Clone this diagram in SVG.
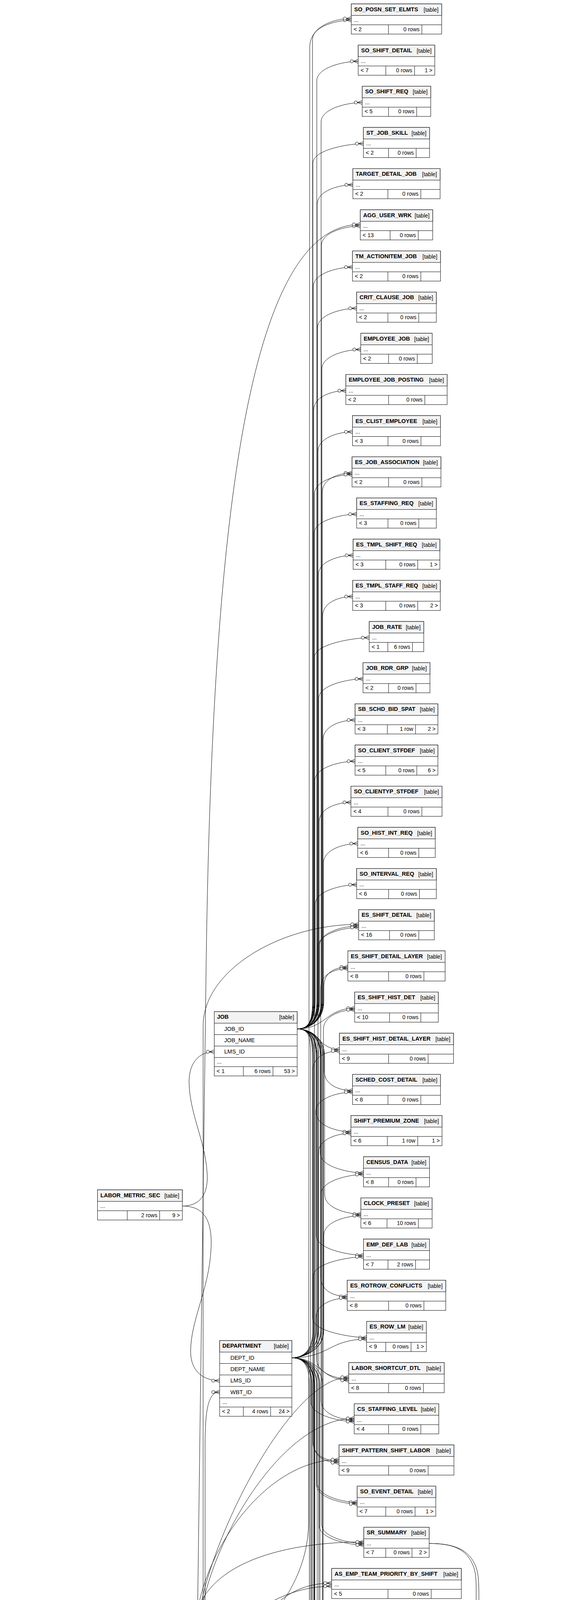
<svg xmlns="http://www.w3.org/2000/svg" width="1472" height="6980" viewBox="0 0 1472 6980">
<style>
text{font-family:"Liberation Sans",Arial,Helvetica,sans-serif;font-size:14.5px;fill:#000}
.n{font-weight:bold;font-size:14.5px}
.r{text-anchor:end;font-size:14px}
.tb{fill:#fff;stroke:#000;stroke-width:1}
.hd{fill:#f3f3f3;stroke:#000;stroke-width:1}
.ln{fill:none;stroke:#000;stroke-width:1}
.thk{fill:none;stroke:#000;stroke-width:2.5}
.e{fill:none;stroke:#000;stroke-width:1;marker-end:url(#cf)}
</style>
<defs>
<marker id="cf" markerUnits="userSpaceOnUse" markerWidth="24" markerHeight="14" viewBox="-22 -7 24 14" refX="0" refY="0" orient="auto" overflow="visible"><circle cx="-16.5" cy="0" r="4" fill="#fff" stroke="#000" stroke-width="1"/><path d="M-12.5 0L0 -5M-12.5 0H0M-12.5 0L0 5" fill="none" stroke="#000" stroke-width="1"/></marker>
</defs>
<rect width="1472" height="6980" fill="#fff"/>
<g id="connectors">
<path class="e" d="M760.8 2634C790.8 2634 800 2614 800 2564L800 101.5C800 66.5 864.3 51.5 899.3 51.5"/>
<path class="e" d="M760.8 2634C790.8 2634 811 2614 811 2564L811 206.9C811 171.9 882 156.9 917 156.9"/>
<path class="e" d="M760.8 2634C790.8 2634 822 2614 822 2564L822 312.3C822 277.3 892.3 262.3 927.3 262.3"/>
<path class="e" d="M760.8 2634C790.8 2634 801 2614 801 2564L801 417.7C801 382.7 895.3 367.7 930.3 367.7"/>
<path class="e" d="M760.8 2634C790.8 2634 812 2614 812 2564L812 523.1C812 488.1 868.3 473.1 903.3 473.1"/>
<path class="e" d="M760.8 2634C790.8 2634 823 2614 823 2564L823 628.5C823 593.5 887.3 578.5 922.3 578.5"/>
<path class="e" d="M760.8 2634C790.8 2634 802 2614 802 2564L802 733.9C802 698.9 867.3 683.9 902.3 683.9"/>
<path class="e" d="M760.8 2634C790.8 2634 813 2614 813 2564L813 839.3C813 804.3 878 789.3 913 789.3"/>
<path class="e" d="M760.8 2634C790.8 2634 824 2614 824 2564L824 944.7C824 909.7 888.5 894.7 923.5 894.7"/>
<path class="e" d="M760.8 2634C790.8 2634 803 2614 803 2564L803 1050.1C803 1015.1 850.3 1000.1 885.3 1000.1"/>
<path class="e" d="M760.8 2634C790.8 2634 814 2614 814 2564L814 1155.5C814 1120.5 867.4 1105.5 902.4 1105.5"/>
<path class="e" d="M760.8 2634C790.8 2634 825 2614 825 2564L825 1260.9C825 1225.9 866.2 1210.9 901.2 1210.9"/>
<path class="e" d="M760.8 2634C790.8 2634 804 2614 804 2564L804 1366.3C804 1331.3 878 1316.3 913 1316.3"/>
<path class="e" d="M760.8 2634C790.8 2634 815 2614 815 2564L815 1471.7C815 1436.7 869 1421.7 904 1421.7"/>
<path class="e" d="M760.8 2634C790.8 2634 826 2614 826 2564L826 1577.1C826 1542.1 867.8 1527.1 902.8 1527.1"/>
<path class="e" d="M760.8 2634C790.8 2634 805 2614 805 2564L805 1682.5C805 1647.5 910.2 1632.5 945.2 1632.5"/>
<path class="e" d="M760.8 2634C790.8 2634 816 2614 816 2564L816 1787.9C816 1752.9 894.3 1737.9 929.3 1737.9"/>
<path class="e" d="M760.8 2634C790.8 2634 827 2614 827 2564L827 1893.3C827 1858.3 874 1843.3 909 1843.3"/>
<path class="e" d="M760.8 2634C790.8 2634 806 2614 806 2564L806 1998.7C806 1963.7 874 1948.7 909 1948.7"/>
<path class="e" d="M760.8 2634C790.8 2634 817 2614 817 2564L817 2104.1C817 2069.1 863.4 2054.1 898.4 2054.1"/>
<path class="e" d="M760.8 2634C790.8 2634 828 2614 828 2564L828 2209.5C828 2174.5 880.8 2159.5 915.8 2159.5"/>
<path class="e" d="M760.8 2634C790.8 2634 807 2614 807 2564L807 2314.9C807 2279.9 878 2264.9 913 2264.9"/>
<path class="e" d="M760.8 2634C790.8 2634 818 2614 818 2564L818 2420.3C818 2385.3 883.2 2370.3 918.2 2370.3"/>
<path class="e" d="M760.8 2634C790.8 2634 829 2614 829 2564L829 2525.7C829 2490.7 855.5 2475.7 890.5 2475.7"/>
<path class="e" d="M760.8 2634C834.4 2634 834.4 2581.1 907.9 2581.1"/>
<path class="e" d="M760.8 2634C814.9 2634 814.9 2686.5 869 2686.5"/>
<path class="e" d="M760.8 2634C790.8 2634 830 2654 830 2704L830 2741.9C830 2776.9 867.4 2791.9 902.4 2791.9"/>
<path class="e" d="M760.8 2634C790.8 2634 809 2654 809 2704L809 2847.3C809 2882.3 863.4 2897.3 898.4 2897.3"/>
<path class="e" d="M760.8 2634C790.8 2634 820 2654 820 2704L820 2952.7C820 2987.7 895.5 3002.7 930.5 3002.7"/>
<path class="e" d="M760.8 2634C790.8 2634 831 2654 831 2704L831 3058.1C831 3093.1 888.8 3108.1 923.8 3108.1"/>
<path class="e" d="M760.8 2634C790.8 2634 810 2654 810 2704L810 3163.5C810 3198.5 895.5 3213.5 930.5 3213.5"/>
<path class="e" d="M760.8 2634C790.8 2634 821 2654 821 2704L821 3268.9C821 3303.9 853.9 3318.9 888.9 3318.9"/>
<path class="e" d="M760.8 2634C790.8 2634 800 2654 800 2704L800 3374.3C800 3409.3 903.5 3424.3 938.5 3424.3"/>
<path class="e" d="M760.8 2634C790.8 2634 811 2654 811 2704L811 3479.7C811 3514.7 857.8 3529.7 892.8 3529.7"/>
<path class="e" d="M760.8 2634C790.8 2634 822 2654 822 2704L822 3585.1C822 3620.1 871.7 3635.1 906.7 3635.1"/>
<path class="e" d="M760.8 2634C790.8 2634 801 2654 801 2704L801 3690.5C801 3725.5 832.9 3740.5 867.9 3740.5"/>
<path class="e" d="M760.8 2634C790.8 2634 812 2654 812 2704L812 3795.9C812 3830.9 879.3 3845.9 914.3 3845.9"/>
<path class="e" d="M760.8 2634C790.8 2634 823 2654 823 2704L823 3901.3C823 3936.3 896.3 3951.3 931.3 3951.3"/>
<path class="e" d="M760.8 2634C790.8 2634 803 2654 803 2704L803 4322.9C803 4357.9 910.2 4372.9 945.2 4372.9"/>
<path class="e" d="M760.8 2634C790.8 2634 826 2654 826 2704L826 4849.9C826 4884.9 860.6 4899.9 895.6 4899.9"/>
<path class="e" d="M760.8 2634C790.8 2634 805 2654 805 2704L805 4955.3C805 4990.3 892.7 5005.3 927.7 5005.3"/>
<path class="e" d="M760.8 2634C790.8 2634 816 2654 816 2704L816 5060.7C816 5095.7 895.5 5110.7 930.5 5110.7"/>
<path class="e" d="M760.8 2634C790.8 2634 827 2654 827 2704L827 5166.1C827 5201.1 834 5216.1 869 5216.1"/>
<path class="e" d="M760.8 2634C790.8 2634 795 2654 795 2704L795 5532.8C795 5567.8 808 5582.8 843 5582.8"/>
<path class="e" d="M747.1 3476C777.1 3476 805 3456 805 3406L805 1264.9C805 1229.9 866.2 1214.9 901.2 1214.9"/>
<path class="e" d="M747.1 3476C777.1 3476 814 3456 814 3406L814 2424.3C814 2389.3 883.2 2374.3 918.2 2374.3"/>
<path class="e" d="M747.1 3476C777.1 3476 821 3456 821 3406L821 2529.7C821 2494.7 855.5 2479.7 890.5 2479.7"/>
<path class="e" d="M747.1 3476C777.1 3476 828 3456 828 3406L828 2635.1C828 2600.1 872.9 2585.1 907.9 2585.1"/>
<path class="e" d="M747.1 3476C777.1 3476 801 3456 801 3406L801 2740.5C801 2705.5 834 2690.5 869 2690.5"/>
<path class="e" d="M747.1 3476C777.1 3476 808 3456 808 3406L808 2845.9C808 2810.9 867.4 2795.9 902.4 2795.9"/>
<path class="e" d="M747.1 3476C777.1 3476 815 3456 815 3406L815 2951.3C815 2916.3 863.4 2901.3 898.4 2901.3"/>
<path class="e" d="M747.1 3476C777.1 3476 822 3456 822 3406L822 3056.7C822 3021.7 895.5 3006.7 930.5 3006.7"/>
<path class="e" d="M747.1 3476C777.1 3476 829 3456 829 3406L829 3162.1C829 3127.1 888.8 3112.1 923.8 3112.1"/>
<path class="e" d="M747.1 3476C777.1 3476 802 3456 802 3406L802 3267.5C802 3232.5 895.5 3217.5 930.5 3217.5"/>
<path class="e" d="M747.1 3476C777.1 3476 809 3456 809 3406L809 3372.9C809 3337.9 853.9 3322.9 888.9 3322.9"/>
<path class="e" d="M747.1 3476C842.8 3476 842.8 3428.3 938.5 3428.3"/>
<path class="e" d="M747.1 3476C820 3476 820 3533.7 892.8 3533.7"/>
<path class="e" d="M747.1 3476C777.1 3476 796 3496 796 3546L796 3589.1C796 3624.1 871.7 3639.1 906.7 3639.1"/>
<path class="e" d="M747.1 3476C777.1 3476 803 3496 803 3546L803 3694.5C803 3729.5 832.9 3744.5 867.9 3744.5"/>
<path class="e" d="M747.1 3476C777.1 3476 810 3496 810 3546L810 3799.9C810 3834.9 879.3 3849.9 914.3 3849.9"/>
<path class="e" d="M747.1 3476C777.1 3476 817 3496 817 3546L817 3905.3C817 3940.3 896.3 3955.3 931.3 3955.3"/>
<path class="e" d="M747.1 3476C777.1 3476 804 3496 804 3546L804 4221.5C804 4256.5 871.3 4271.5 906.3 4271.5"/>
<path class="e" d="M747.1 3476C777.1 3476 798 3496 798 3546L798 4639.1C798 4674.1 856.7 4689.1 891.7 4689.1"/>
<path class="e" d="M747.1 3476C777.1 3476 805 3496 805 3546L805 4748.5C805 4783.5 858.2 4798.5 893.2 4798.5"/>
<path class="e" d="M747.1 3476C777.1 3476 812 3496 812 3546L812 4853.9C812 4888.9 860.6 4903.9 895.6 4903.9"/>
<path class="e" d="M747.1 3476C777.1 3476 819 3496 819 3546L819 4959.3C819 4994.3 892.7 5009.3 927.7 5009.3"/>
<path class="e" d="M747.1 3476C777.1 3476 826 3496 826 3546L826 5064.7C826 5099.7 895.5 5114.7 930.5 5114.7"/>
<path class="e" d="M747.1 3476C777.1 3476 799 3496 799 3546L799 5170.1C799 5205.1 834 5220.1 869 5220.1"/>
<path class="e" d="M747.1 3476C777.1 3476 806 3496 806 3546L806 5300.5C806 5335.5 869.7 5350.5 904.7 5350.5"/>
<path class="e" d="M747.1 3476C777.1 3476 792 3496 792 3546L792 5474C792 5509 808 5524 843 5524"/>
<path class="e" d="M459.1 4265.3C600 4265.3 788 4100 790 3900L793 120C794 70 850 47.5 899.3 47.5"/>
<path class="e" d="M459.1 4265.3C489.1 4265.3 505 4245 505 4185L528 2450C545 1300 640 574.5 922.3 574.5"/>
<path class="e" d="M459.1 4265.3C489.1 4265.3 520 4245 520 4185L520 2626.3C520 2483.3 719.1 2366.3 918.2 2366.3"/>
<path class="e" d="M459.1 4265.3C489.1 4265.3 505 4245 505 4185C505 4000 732.8 3525.7 892.8 3525.7"/>
<path class="e" d="M459.1 4265.3C489.1 4265.3 510 4245 510 4185C510 4000 706.7 3631.1 906.7 3631.1"/>
<path class="e" d="M459.1 4265.3C489.1 4265.3 500 4245 500 4185C500 4000 667.9 3736.5 867.9 3736.5"/>
<path class="e" d="M459.1 4265.3C489.1 4265.3 495 4245 495 4185C495 4000 731.3 3947.3 931.3 3947.3"/>
<path class="e" d="M459.1 4265.3C654 4265.3 654 4052.7 849 4052.7"/>
<path class="e" d="M459.1 4265.3C679.4 4265.3 679.4 4158.1 899.6 4158.1"/>
<path class="e" d="M459.1 4265.3L906.3 4265.3"/>
<path class="e" d="M459.1 4265.3C702.2 4265.3 702.2 4368.9 945.2 4368.9"/>
<path class="e" d="M459.1 4265.3C686.7 4265.3 686.7 4474.3 914.3 4474.3"/>
<path class="e" d="M459.1 4265.3C698.8 4265.3 698.8 4579.7 938.5 4579.7"/>
<path class="e" d="M459.1 4265.3C677.4 4265.3 677.4 4895.9 895.6 4895.9"/>
<path class="e" d="M459.1 4265.3C693.4 4265.3 693.4 5001.3 927.7 5001.3"/>
<path class="e" d="M459.1 4265.3C489.1 4265.3 525 4245 525 4185L525 3700C525 3600 535 3563.8 562.3 3563.8"/>
<path class="e" d="M459.1 4265.3C489.1 4265.3 498 4285 498 4345L498 4840C498 4895 515 4913.9 548.5 4913.9"/>
<path class="e" d="M459.1 4265.3C489.1 4265.3 493 4285 493 4345L493 5090C493 5145 520 5163 557.9 5163"/>
<path class="e" d="M459.1 4265.3C600 4265.3 790 4500 790 4800L790 6380C790 6450 850 6481.3 905.4 6481.3"/>
<path class="e" d="M459.1 4265.3C489.1 4265.3 500 4285 500 4345L500 5200C500 5250 540 5262 640 5262C900 5262 1050 5290 1180 5265C1212 5258 1214 5220 1214 5160L1214 4700C1214 4640 1222 4620.5 1252.8 4620.5"/>
<path class="e" d="M1098.7 3951.3C1160 3951.3 1200 3965 1218 4010C1226 4030 1226 4060 1226 4100L1226 4540C1226 4590 1225 4612.5 1252.8 4612.5"/>
<path class="e" d="M1098.7 3951.3C1160 3951.3 1195 3965 1212 4010C1220 4030 1219 4060 1219 4100L1210 5260C1209 5380 1240 5458.5 1283.6 5458.5"/>
<path class="e" d="M447.6 5361C510.2 5361 510.2 5413.8 572.7 5413.8"/>
<path class="e" d="M447.6 5361C492 5361 492 5308.5 536.5 5308.5"/>
<path class="e" d="M447.6 5361C480 5361 472 5340 472 5290L472 5100C472 5050 500 5017.1 536.5 5017.1"/>
<path class="e" d="M447.6 5361C480 5361 476 5340 476 5290L476 5100C476 5050 500 5021.1 536.5 5021.1"/>
<path class="e" d="M447.6 5361C480 5361 480 5340 480 5290L480 5100C480 5050 500 5025.1 536.5 5025.1"/>
<path class="e" d="M447.6 5361C480 5361 484 5340 484 5290L484 5100C484 5050 500 5029.1 536.5 5029.1"/>
<path class="e" d="M447.6 5361C480 5361 488 5340 488 5290L488 5100C488 5050 500 5033.1 536.5 5033.1"/>
<path class="e" d="M447.6 5361C480 5361 480 5385 480 5440L480 5780C480 5830 505 5849 532.6 5849"/>
<path class="e" d="M447.6 5361C480 5361 484 5385 484 5440L484 5780C484 5830 505 5852 532.6 5852"/>
<path class="e" d="M447.6 5361C480 5361 488 5385 488 5440L488 5780C488 5830 505 5855 532.6 5855"/>
<path class="e" d="M447.6 5361C480 5361 492 5385 492 5440L492 5780C492 5830 505 5858 532.6 5858"/>
<path class="e" d="M447.6 5361C480 5361 496 5385 496 5440L496 5780C496 5830 505 5861 532.6 5861"/>
<path class="e" d="M447.6 5361C480 5361 500 5385 500 5440L500 5780C500 5830 505 5864 532.6 5864"/>
<path class="e" d="M447.6 5361C480 5361 505 5420 520 5470C545 5545 650 5575 760 5570C800 5568 810 5553.4 843 5553.4"/>
<path class="e" d="M447.6 5361C480 5361 495 5400 505 5430C530 5490 600 5490 700 5485C800 5480 840 5354.5 904.7 5354.5"/>
<path class="e" d="M447.6 5361C480 5361 510 5400 512 5480L518 5960C525 6250 800 6300 806 6500L808 6740C809 6790 830 6805.5 860.4 6805.5"/>
<path class="e" d="M447.6 5361C480 5361 505 5400 510 5500L520 5950C530 6400 620 6700 800 6830C900 6900 960 6930 1030 6930C1150 6930 1200 6880 1230 6800C1245 6750 1242 6600 1242 6500L1240 5560C1240 5500 1250 5466.5 1283.6 5466.5"/>
<path class="e" d="M447.6 5361C480 5361 500 5340 500 5290L500 4400C500 4250 650 4060.7 849 4060.7"/>
<path class="e" d="M447.6 5361C480 5361 504 5340 504 5290L504 4450C504 4300 680 4166.1 899.6 4166.1"/>
<path class="e" d="M447.6 5361C480 5361 508 5340 508 5290L508 4700C508 4560 700 4482.3 914.3 4482.3"/>
<path class="e" d="M447.6 5361C480 5361 512 5340 512 5290L512 4780C512 4650 720 4587.7 938.5 4587.7"/>
<path class="e" d="M447.6 5361C480 5361 516 5340 516 5290L516 4880C516 4820 700 4802.5 893.2 4802.5"/>
<path class="e" d="M447.6 5361C480 5361 520 5340 520 5290L520 5000C520 4950 525 4921.9 548.5 4921.9"/>
<path class="e" d="M447.6 5361C480 5361 524 5340 524 5290L524 5220C524 5185 530 5171 557.9 5171"/>
<path class="e" d="M771.3 5025.1C800 5025.1 812 5010 812 4980L812 4830C812 4800 850 4790.5 893.2 4790.5"/>
<path class="e" d="M771.3 5025.1C800 5025.1 818 5010 818 4980L818 4930C818 4905 855 4891.9 895.6 4891.9"/>
<path class="e" d="M749.3 5167C839.9 5167 839.9 5106.7 930.5 5106.7"/>
<path class="e" d="M745 5629.8C790 5629.8 800 5494.6 843 5494.6"/>
<path class="e" d="M745 5629.8C775 5629.8 800 5610 800 5570L800 5280C800 5240 830 5224.1 869 5224.1"/>
<path class="e" d="M745 5629.8C775 5629.8 806 5610 806 5570L806 5410C806 5375 860 5358.5 904.7 5358.5"/>
<path class="e" d="M745 5629.8C775 5629.8 786 5650 786 5700L788 6400C789 6460 850 6489.3 905.4 6489.3"/>
<path class="e" d="M745 5629.8C775 5629.8 792 5650 792 5700L796 6520C797 6570 820 6590.5 855.4 6590.5"/>
<path class="e" d="M745 5629.8C775 5629.8 798 5650 798 5700L802 6600C803 6660 850 6696 899.6 6696"/>
<path class="e" d="M745 5629.8C775 5629.8 780 5650 780 5700L784 6700C785 6770 820 6797.5 860.4 6797.5"/>
<path class="e" d="M466.8 3087.5C510 3087.5 535 3060 530 3000C525 2920 485 2850 484 2770C484 2720 510 2692.5 548.5 2692.5"/>
<path class="e" d="M466.8 3087.5C520 3087.5 545 3120 540 3200C535 3300 488 3380 488 3460C488 3510 520 3534.5 562.3 3534.5"/>
<path class="e" d="M184.3 5381.7C226.6 5381.7 226.6 5419.8 268.8 5419.8"/>
<path class="e" d="M163 5487C215.9 5487 215.9 5449 268.8 5449"/>
</g>
<g id="SO_POSN_SET_ELMTS" transform="translate(899.3 10)"><rect class="tb" width="231.4" height="77.2"/><rect class="hd" width="231.4" height="29.5"/><path class="ln" d="M0 53.5H231.4M95 53.5V77.2M180.7 53.5V77.2"/><text class="n" x="7.5" y="18.5">SO_POSN_SET_ELMTS</text><text class="r" x="223.4" y="19.5">[table]</text><text x="7" y="46">...</text><text x="6" y="69.5">&lt; 2</text><text class="r" x="174.7" y="69.5">0 rows</text></g>
<g id="SO_SHIFT_DETAIL" transform="translate(917 115.4)"><rect class="tb" width="196" height="77.2"/><rect class="hd" width="196" height="29.5"/><path class="ln" d="M0 53.5H196M70.7 53.5V77.2M144.3 53.5V77.2"/><text class="n" x="7.5" y="18.5">SO_SHIFT_DETAIL</text><text class="r" x="188" y="19.5">[table]</text><text x="7" y="46">...</text><text x="6" y="69.5">&lt; 7</text><text class="r" x="138.3" y="69.5">0 rows</text><text class="r" x="190" y="69.5">1 &gt;</text></g>
<g id="SO_SHIFT_REQ" transform="translate(927.3 220.8)"><rect class="tb" width="175.4" height="77.2"/><rect class="hd" width="175.4" height="29.5"/><path class="ln" d="M0 53.5H175.4M67.4 53.5V77.2M139.4 53.5V77.2"/><text class="n" x="7.5" y="18.5">SO_SHIFT_REQ</text><text class="r" x="167.4" y="19.5">[table]</text><text x="7" y="46">...</text><text x="6" y="69.5">&lt; 5</text><text class="r" x="133.4" y="69.5">0 rows</text></g>
<g id="ST_JOB_SKILL" transform="translate(930.3 326.2)"><rect class="tb" width="169.4" height="77.2"/><rect class="hd" width="169.4" height="29.5"/><path class="ln" d="M0 53.5H169.4M64.4 53.5V77.2M135 53.5V77.2"/><text class="n" x="7.5" y="18.5">ST_JOB_SKILL</text><text class="r" x="161.4" y="19.5">[table]</text><text x="7" y="46">...</text><text x="6" y="69.5">&lt; 2</text><text class="r" x="129" y="69.5">0 rows</text></g>
<g id="TARGET_DETAIL_JOB" transform="translate(903.3 431.6)"><rect class="tb" width="223.4" height="77.2"/><rect class="hd" width="223.4" height="29.5"/><path class="ln" d="M0 53.5H223.4M89.7 53.5V77.2M174 53.5V77.2"/><text class="n" x="7.5" y="18.5">TARGET_DETAIL_JOB</text><text class="r" x="215.4" y="19.5">[table]</text><text x="7" y="46">...</text><text x="6" y="69.5">&lt; 2</text><text class="r" x="168" y="69.5">0 rows</text></g>
<g id="AGG_USER_WRK" transform="translate(922.3 537)"><rect class="tb" width="185.4" height="77.2"/><rect class="hd" width="185.4" height="29.5"/><path class="ln" d="M0 53.5H185.4M76.4 53.5V77.2M148.4 53.5V77.2"/><text class="n" x="7.5" y="18.5">AGG_USER_WRK</text><text class="r" x="177.4" y="19.5">[table]</text><text x="7" y="46">...</text><text x="6" y="69.5">&lt; 13</text><text class="r" x="142.4" y="69.5">0 rows</text></g>
<g id="TM_ACTIONITEM_JOB" transform="translate(902.3 642.4)"><rect class="tb" width="225.4" height="77.2"/><rect class="hd" width="225.4" height="29.5"/><path class="ln" d="M0 53.5H225.4M90.7 53.5V77.2M175 53.5V77.2"/><text class="n" x="7.5" y="18.5">TM_ACTIONITEM_JOB</text><text class="r" x="217.4" y="19.5">[table]</text><text x="7" y="46">...</text><text x="6" y="69.5">&lt; 2</text><text class="r" x="169" y="69.5">0 rows</text></g>
<g id="CRIT_CLAUSE_JOB" transform="translate(913 747.8)"><rect class="tb" width="204" height="77.2"/><rect class="hd" width="204" height="29.5"/><path class="ln" d="M0 53.5H204M80 53.5V77.2M159 53.5V77.2"/><text class="n" x="7.5" y="18.5">CRIT_CLAUSE_JOB</text><text class="r" x="196" y="19.5">[table]</text><text x="7" y="46">...</text><text x="6" y="69.5">&lt; 2</text><text class="r" x="153" y="69.5">0 rows</text></g>
<g id="EMPLOYEE_JOB" transform="translate(923.5 853.2)"><rect class="tb" width="183" height="77.2"/><rect class="hd" width="183" height="29.5"/><path class="ln" d="M0 53.5H183M71.3 53.5V77.2M144.7 53.5V77.2"/><text class="n" x="7.5" y="18.5">EMPLOYEE_JOB</text><text class="r" x="175" y="19.5">[table]</text><text x="7" y="46">...</text><text x="6" y="69.5">&lt; 2</text><text class="r" x="138.7" y="69.5">0 rows</text></g>
<g id="EMPLOYEE_JOB_POSTING" transform="translate(885.3 958.6)"><rect class="tb" width="259.4" height="77.2"/><rect class="hd" width="259.4" height="29.5"/><path class="ln" d="M0 53.5H259.4M109.5 53.5V77.2M202.3 53.5V77.2"/><text class="n" x="7.5" y="18.5">EMPLOYEE_JOB_POSTING</text><text class="r" x="251.4" y="19.5">[table]</text><text x="7" y="46">...</text><text x="6" y="69.5">&lt; 2</text><text class="r" x="196.3" y="69.5">0 rows</text></g>
<g id="ES_CLIST_EMPLOYEE" transform="translate(902.4 1064)"><rect class="tb" width="225.2" height="77.2"/><rect class="hd" width="225.2" height="29.5"/><path class="ln" d="M0 53.5H225.2M90.8 53.5V77.2M175.3 53.5V77.2"/><text class="n" x="7.5" y="18.5">ES_CLIST_EMPLOYEE</text><text class="r" x="217.2" y="19.5">[table]</text><text x="7" y="46">...</text><text x="6" y="69.5">&lt; 3</text><text class="r" x="169.3" y="69.5">0 rows</text></g>
<g id="ES_JOB_ASSOCIATION" transform="translate(901.2 1169.4)"><rect class="tb" width="227.6" height="77.2"/><rect class="hd" width="227.6" height="29.5"/><path class="ln" d="M0 53.5H227.6M93.6 53.5V77.2M178.8 53.5V77.2"/><text class="n" x="7.5" y="18.5">ES_JOB_ASSOCIATION</text><text class="r" x="219.6" y="19.5">[table]</text><text x="7" y="46">...</text><text x="6" y="69.5">&lt; 2</text><text class="r" x="172.8" y="69.5">0 rows</text></g>
<g id="ES_STAFFING_REQ" transform="translate(913 1274.8)"><rect class="tb" width="204" height="77.2"/><rect class="hd" width="204" height="29.5"/><path class="ln" d="M0 53.5H204M80.2 53.5V77.2M159.1 53.5V77.2"/><text class="n" x="7.5" y="18.5">ES_STAFFING_REQ</text><text class="r" x="196" y="19.5">[table]</text><text x="7" y="46">...</text><text x="6" y="69.5">&lt; 3</text><text class="r" x="153.1" y="69.5">0 rows</text></g>
<g id="ES_TMPL_SHIFT_REQ" transform="translate(904 1380.2)"><rect class="tb" width="222" height="77.2"/><rect class="hd" width="222" height="29.5"/><path class="ln" d="M0 53.5H222M83.6 53.5V77.2M165.4 53.5V77.2"/><text class="n" x="7.5" y="18.5">ES_TMPL_SHIFT_REQ</text><text class="r" x="214" y="19.5">[table]</text><text x="7" y="46">...</text><text x="6" y="69.5">&lt; 3</text><text class="r" x="159.4" y="69.5">0 rows</text><text class="r" x="216" y="69.5">1 &gt;</text></g>
<g id="ES_TMPL_STAFF_REQ" transform="translate(902.8 1485.6)"><rect class="tb" width="224.4" height="77.2"/><rect class="hd" width="224.4" height="29.5"/><path class="ln" d="M0 53.5H224.4M84.8 53.5V77.2M166.6 53.5V77.2"/><text class="n" x="7.5" y="18.5">ES_TMPL_STAFF_REQ</text><text class="r" x="216.4" y="19.5">[table]</text><text x="7" y="46">...</text><text x="6" y="69.5">&lt; 3</text><text class="r" x="160.6" y="69.5">0 rows</text><text class="r" x="218.4" y="69.5">2 &gt;</text></g>
<g id="JOB_RATE" transform="translate(945.2 1591)"><rect class="tb" width="139.6" height="77.2"/><rect class="hd" width="139.6" height="29.5"/><path class="ln" d="M0 53.5H139.6M47.6 53.5V77.2M110.7 53.5V77.2"/><text class="n" x="7.5" y="18.5">JOB_RATE</text><text class="r" x="131.6" y="19.5">[table]</text><text x="7" y="46">...</text><text x="6" y="69.5">&lt; 1</text><text class="r" x="104.7" y="69.5">6 rows</text></g>
<g id="JOB_RDR_GRP" transform="translate(929.3 1696.4)"><rect class="tb" width="171.4" height="77.2"/><rect class="hd" width="171.4" height="29.5"/><path class="ln" d="M0 53.5H171.4M65.5 53.5V77.2M135.7 53.5V77.2"/><text class="n" x="7.5" y="18.5">JOB_RDR_GRP</text><text class="r" x="163.4" y="19.5">[table]</text><text x="7" y="46">...</text><text x="6" y="69.5">&lt; 2</text><text class="r" x="129.7" y="69.5">0 rows</text></g>
<g id="SB_SCHD_BID_SPAT" transform="translate(909 1801.8)"><rect class="tb" width="212" height="77.2"/><rect class="hd" width="212" height="29.5"/><path class="ln" d="M0 53.5H212M82.6 53.5V77.2M154.8 53.5V77.2"/><text class="n" x="7.5" y="18.5">SB_SCHD_BID_SPAT</text><text class="r" x="204" y="19.5">[table]</text><text x="7" y="46">...</text><text x="6" y="69.5">&lt; 3</text><text class="r" x="148.8" y="69.5">1 row</text><text class="r" x="206" y="69.5">2 &gt;</text></g>
<g id="SO_CLIENT_STFDEF" transform="translate(909 1907.2)"><rect class="tb" width="212" height="77.2"/><rect class="hd" width="212" height="29.5"/><path class="ln" d="M0 53.5H212M78.6 53.5V77.2M158 53.5V77.2"/><text class="n" x="7.5" y="18.5">SO_CLIENT_STFDEF</text><text class="r" x="204" y="19.5">[table]</text><text x="7" y="46">...</text><text x="6" y="69.5">&lt; 5</text><text class="r" x="152" y="69.5">0 rows</text><text class="r" x="206" y="69.5">6 &gt;</text></g>
<g id="SO_CLIENTYP_STFDEF" transform="translate(898.4 2012.6)"><rect class="tb" width="233.2" height="77.2"/><rect class="hd" width="233.2" height="29.5"/><path class="ln" d="M0 53.5H233.2M94.8 53.5V77.2M181.6 53.5V77.2"/><text class="n" x="7.5" y="18.5">SO_CLIENTYP_STFDEF</text><text class="r" x="225.2" y="19.5">[table]</text><text x="7" y="46">...</text><text x="6" y="69.5">&lt; 4</text><text class="r" x="175.6" y="69.5">0 rows</text></g>
<g id="SO_HIST_INT_REQ" transform="translate(915.8 2118)"><rect class="tb" width="198.4" height="77.2"/><rect class="hd" width="198.4" height="29.5"/><path class="ln" d="M0 53.5H198.4M79 53.5V77.2M156.3 53.5V77.2"/><text class="n" x="7.5" y="18.5">SO_HIST_INT_REQ</text><text class="r" x="190.4" y="19.5">[table]</text><text x="7" y="46">...</text><text x="6" y="69.5">&lt; 6</text><text class="r" x="150.3" y="69.5">0 rows</text></g>
<g id="SO_INTERVAL_REQ" transform="translate(913 2223.4)"><rect class="tb" width="204" height="77.2"/><rect class="hd" width="204" height="29.5"/><path class="ln" d="M0 53.5H204M81.8 53.5V77.2M160.7 53.5V77.2"/><text class="n" x="7.5" y="18.5">SO_INTERVAL_REQ</text><text class="r" x="196" y="19.5">[table]</text><text x="7" y="46">...</text><text x="6" y="69.5">&lt; 6</text><text class="r" x="154.7" y="69.5">0 rows</text></g>
<g id="ES_SHIFT_DETAIL" transform="translate(918.2 2328.8)"><rect class="tb" width="193.6" height="77.2"/><rect class="hd" width="193.6" height="29.5"/><path class="ln" d="M0 53.5H193.6M79 53.5V77.2M153.9 53.5V77.2"/><text class="n" x="7.5" y="18.5">ES_SHIFT_DETAIL</text><text class="r" x="185.6" y="19.5">[table]</text><text x="7" y="46">...</text><text x="6" y="69.5">&lt; 16</text><text class="r" x="147.9" y="69.5">0 rows</text></g>
<g id="ES_SHIFT_DETAIL_LAYER" transform="translate(890.5 2434.2)"><rect class="tb" width="249" height="77.2"/><rect class="hd" width="249" height="29.5"/><path class="ln" d="M0 53.5H249M104.3 53.5V77.2M194.7 53.5V77.2"/><text class="n" x="7.5" y="18.5">ES_SHIFT_DETAIL_LAYER</text><text class="r" x="241" y="19.5">[table]</text><text x="7" y="46">...</text><text x="6" y="69.5">&lt; 8</text><text class="r" x="188.7" y="69.5">0 rows</text></g>
<g id="ES_SHIFT_HIST_DET" transform="translate(907.9 2539.6)"><rect class="tb" width="214.2" height="77.2"/><rect class="hd" width="214.2" height="29.5"/><path class="ln" d="M0 53.5H214.2M89.3 53.5V77.2M169.4 53.5V77.2"/><text class="n" x="7.5" y="18.5">ES_SHIFT_HIST_DET</text><text class="r" x="206.2" y="19.5">[table]</text><text x="7" y="46">...</text><text x="6" y="69.5">&lt; 10</text><text class="r" x="163.4" y="69.5">0 rows</text></g>
<g id="ES_SHIFT_HIST_DETAIL_LAYER" transform="translate(869 2645)"><rect class="tb" width="292" height="77.2"/><rect class="hd" width="292" height="29.5"/><path class="ln" d="M0 53.5H292M125.8 53.5V77.2M227 53.5V77.2"/><text class="n" x="7.5" y="18.5">ES_SHIFT_HIST_DETAIL_LAYER</text><text class="r" x="284" y="19.5">[table]</text><text x="7" y="46">...</text><text x="6" y="69.5">&lt; 9</text><text class="r" x="221" y="69.5">0 rows</text></g>
<g id="SCHED_COST_DETAIL" transform="translate(902.4 2750.4)"><rect class="tb" width="225.2" height="77.2"/><rect class="hd" width="225.2" height="29.5"/><path class="ln" d="M0 53.5H225.2M90.8 53.5V77.2M174.9 53.5V77.2"/><text class="n" x="7.5" y="18.5">SCHED_COST_DETAIL</text><text class="r" x="217.2" y="19.5">[table]</text><text x="7" y="46">...</text><text x="6" y="69.5">&lt; 8</text><text class="r" x="168.9" y="69.5">0 rows</text></g>
<g id="SHIFT_PREMIUM_ZONE" transform="translate(898.4 2855.8)"><rect class="tb" width="233.2" height="77.2"/><rect class="hd" width="233.2" height="29.5"/><path class="ln" d="M0 53.5H233.2M93.2 53.5V77.2M171 53.5V77.2"/><text class="n" x="7.5" y="18.5">SHIFT_PREMIUM_ZONE</text><text class="r" x="225.2" y="19.5">[table]</text><text x="7" y="46">...</text><text x="6" y="69.5">&lt; 6</text><text class="r" x="165" y="69.5">1 row</text><text class="r" x="227.2" y="69.5">1 &gt;</text></g>
<g id="CENSUS_DATA" transform="translate(930.5 2961.2)"><rect class="tb" width="169" height="77.2"/><rect class="hd" width="169" height="29.5"/><path class="ln" d="M0 53.5H169M64.3 53.5V77.2M134.5 53.5V77.2"/><text class="n" x="7.5" y="18.5">CENSUS_DATA</text><text class="r" x="161" y="19.5">[table]</text><text x="7" y="46">...</text><text x="6" y="69.5">&lt; 8</text><text class="r" x="128.5" y="69.5">0 rows</text></g>
<g id="CLOCK_PRESET" transform="translate(923.8 3066.6)"><rect class="tb" width="182.4" height="77.2"/><rect class="hd" width="182.4" height="29.5"/><path class="ln" d="M0 53.5H182.4M67 53.5V77.2M147.2 53.5V77.2"/><text class="n" x="7.5" y="18.5">CLOCK_PRESET</text><text class="r" x="174.4" y="19.5">[table]</text><text x="7" y="46">...</text><text x="6" y="69.5">&lt; 6</text><text class="r" x="141.2" y="69.5">10 rows</text></g>
<g id="EMP_DEF_LAB" transform="translate(930.5 3172)"><rect class="tb" width="169" height="77.2"/><rect class="hd" width="169" height="29.5"/><path class="ln" d="M0 53.5H169M62.7 53.5V77.2M133.3 53.5V77.2"/><text class="n" x="7.5" y="18.5">EMP_DEF_LAB</text><text class="r" x="161" y="19.5">[table]</text><text x="7" y="46">...</text><text x="6" y="69.5">&lt; 7</text><text class="r" x="127.3" y="69.5">2 rows</text></g>
<g id="ES_ROTROW_CONFLICTS" transform="translate(888.9 3277.4)"><rect class="tb" width="252.2" height="77.2"/><rect class="hd" width="252.2" height="29.5"/><path class="ln" d="M0 53.5H252.2M105.9 53.5V77.2M196.3 53.5V77.2"/><text class="n" x="7.5" y="18.5">ES_ROTROW_CONFLICTS</text><text class="r" x="244.2" y="19.5">[table]</text><text x="7" y="46">...</text><text x="6" y="69.5">&lt; 8</text><text class="r" x="190.3" y="69.5">0 rows</text></g>
<g id="ES_ROW_LM" transform="translate(938.5 3382.8)"><rect class="tb" width="153" height="77.2"/><rect class="hd" width="153" height="29.5"/><path class="ln" d="M0 53.5H153M49.1 53.5V77.2M113.8 53.5V77.2"/><text class="n" x="7.5" y="18.5">ES_ROW_LM</text><text class="r" x="145" y="19.5">[table]</text><text x="7" y="46">...</text><text x="6" y="69.5">&lt; 9</text><text class="r" x="107.8" y="69.5">0 rows</text><text class="r" x="147" y="69.5">1 &gt;</text></g>
<g id="LABOR_SHORTCUT_DTL" transform="translate(892.8 3488.2)"><rect class="tb" width="244.4" height="77.2"/><rect class="hd" width="244.4" height="29.5"/><path class="ln" d="M0 53.5H244.4M102 53.5V77.2M191.2 53.5V77.2"/><text class="n" x="7.5" y="18.5">LABOR_SHORTCUT_DTL</text><text class="r" x="236.4" y="19.5">[table]</text><text x="7" y="46">...</text><text x="6" y="69.5">&lt; 8</text><text class="r" x="185.2" y="69.5">0 rows</text></g>
<g id="CS_STAFFING_LEVEL" transform="translate(906.7 3593.6)"><rect class="tb" width="216.6" height="77.2"/><rect class="hd" width="216.6" height="29.5"/><path class="ln" d="M0 53.5H216.6M88.1 53.5V77.2M170.6 53.5V77.2"/><text class="n" x="7.5" y="18.5">CS_STAFFING_LEVEL</text><text class="r" x="208.6" y="19.5">[table]</text><text x="7" y="46">...</text><text x="6" y="69.5">&lt; 4</text><text class="r" x="164.6" y="69.5">0 rows</text></g>
<g id="SHIFT_PATTERN_SHIFT_LABOR" transform="translate(867.9 3699)"><rect class="tb" width="294.2" height="77.2"/><rect class="hd" width="294.2" height="29.5"/><path class="ln" d="M0 53.5H294.2M126.9 53.5V77.2M228.1 53.5V77.2"/><text class="n" x="7.5" y="18.5">SHIFT_PATTERN_SHIFT_LABOR</text><text class="r" x="286.2" y="19.5">[table]</text><text x="7" y="46">...</text><text x="6" y="69.5">&lt; 9</text><text class="r" x="222.1" y="69.5">0 rows</text></g>
<g id="SO_EVENT_DETAIL" transform="translate(914.3 3804.4)"><rect class="tb" width="201.4" height="77.2"/><rect class="hd" width="201.4" height="29.5"/><path class="ln" d="M0 53.5H201.4M73.3 53.5V77.2M148.3 53.5V77.2"/><text class="n" x="7.5" y="18.5">SO_EVENT_DETAIL</text><text class="r" x="193.4" y="19.5">[table]</text><text x="7" y="46">...</text><text x="6" y="69.5">&lt; 7</text><text class="r" x="142.3" y="69.5">0 rows</text><text class="r" x="195.4" y="69.5">1 &gt;</text></g>
<g id="SR_SUMMARY" transform="translate(931.3 3909.8)"><rect class="tb" width="167.4" height="77.2"/><rect class="hd" width="167.4" height="29.5"/><path class="ln" d="M0 53.5H167.4M56.3 53.5V77.2M123.4 53.5V77.2"/><text class="n" x="7.5" y="18.5">SR_SUMMARY</text><text class="r" x="159.4" y="19.5">[table]</text><text x="7" y="46">...</text><text x="6" y="69.5">&lt; 7</text><text class="r" x="117.4" y="69.5">0 rows</text><text class="r" x="161.4" y="69.5">2 &gt;</text></g>
<g id="AS_EMP_TEAM_PRIORITY_BY_SHIFT" transform="translate(849 4015.2)"><rect class="tb" width="332" height="77.2"/><rect class="hd" width="332" height="29.5"/><path class="ln" d="M0 53.5H332M144.2 53.5V77.2M254.9 53.5V77.2"/><text class="n" x="7.5" y="18.5">AS_EMP_TEAM_PRIORITY_BY_SHIFT</text><text class="r" x="324" y="19.5">[table]</text><text x="7" y="46">...</text><text x="6" y="69.5">&lt; 5</text><text class="r" x="248.9" y="69.5">0 rows</text></g>
<g id="ES_SHIFT_TYPE_TEAM" transform="translate(899.6 4120.6)"><rect class="tb" width="230.8" height="77.2"/><rect class="hd" width="230.8" height="29.5"/><path class="ln" d="M0 53.5H230.8M97.6 53.5V77.2M178.1 53.5V77.2"/><text class="n" x="7.5" y="18.5">ES_SHIFT_TYPE_TEAM</text><text class="r" x="222.8" y="19.5">[table]</text><text x="7" y="46">...</text><text x="6" y="69.5">&lt; 3</text><text class="r" x="172.1" y="69.5">1 row</text></g>
<g id="ES_WORKLOAD_REQ" transform="translate(906.3 4226)"><rect class="tb" width="217.4" height="77.2"/><rect class="hd" width="217.4" height="29.5"/><path class="ln" d="M0 53.5H217.4M86.9 53.5V77.2M169.4 53.5V77.2"/><text class="n" x="7.5" y="18.5">ES_WORKLOAD_REQ</text><text class="r" x="209.4" y="19.5">[table]</text><text x="7" y="46">...</text><text x="6" y="69.5">&lt; 4</text><text class="r" x="163.4" y="69.5">0 rows</text></g>
<g id="JOB_TEAM" transform="translate(945.2 4331.4)"><rect class="tb" width="139.6" height="77.2"/><rect class="hd" width="139.6" height="29.5"/><path class="ln" d="M0 53.5H139.6M42.4 53.5V77.2M103.1 53.5V77.2"/><text class="n" x="7.5" y="18.5">JOB_TEAM</text><text class="r" x="131.6" y="19.5">[table]</text><text x="7" y="46">...</text><text x="6" y="69.5">&lt; 2</text><text class="r" x="97.1" y="69.5">0 rows</text><text class="r" x="133.6" y="69.5">1 &gt;</text></g>
<g id="SR_SHIFT_OFFSET" transform="translate(914.3 4436.8)"><rect class="tb" width="201.4" height="77.2"/><rect class="hd" width="201.4" height="29.5"/><path class="ln" d="M0 53.5H201.4M78.9 53.5V77.2M157.8 53.5V77.2"/><text class="n" x="7.5" y="18.5">SR_SHIFT_OFFSET</text><text class="r" x="193.4" y="19.5">[table]</text><text x="7" y="46">...</text><text x="6" y="69.5">&lt; 3</text><text class="r" x="151.8" y="69.5">0 rows</text></g>
<g id="RTSS_SHIFT" transform="translate(938.5 4542.2)"><rect class="tb" width="153" height="77.2"/><rect class="hd" width="153" height="29.5"/><path class="ln" d="M0 53.5H153M49.1 53.5V77.2M112.6 53.5V77.2"/><text class="n" x="7.5" y="18.5">RTSS_SHIFT</text><text class="r" x="145" y="19.5">[table]</text><text x="7" y="46">...</text><text x="6" y="69.5">&lt; 4</text><text class="r" x="106.6" y="69.5">0 rows</text><text class="r" x="147" y="69.5">1 &gt;</text></g>
<g id="DEPARTMENT_RDR_GRP" transform="translate(891.7 4647.6)"><rect class="tb" width="246.6" height="77.2"/><rect class="hd" width="246.6" height="29.5"/><path class="ln" d="M0 53.5H246.6M103.1 53.5V77.2M192.3 53.5V77.2"/><text class="n" x="7.5" y="18.5">DEPARTMENT_RDR_GRP</text><text class="r" x="238.6" y="19.5">[table]</text><text x="7" y="46">...</text><text x="6" y="69.5">&lt; 2</text><text class="r" x="186.3" y="69.5">0 rows</text></g>
<g id="EMPLOYEE_SCHED_DTL" transform="translate(893.2 4753)"><rect class="tb" width="243.6" height="77.2"/><rect class="hd" width="243.6" height="29.5"/><path class="ln" d="M0 53.5H243.6M100 53.5V77.2M193.2 53.5V77.2"/><text class="n" x="7.5" y="18.5">EMPLOYEE_SCHED_DTL</text><text class="r" x="235.6" y="19.5">[table]</text><text x="7" y="46">...</text><text x="6" y="69.5">&lt; 11</text><text class="r" x="187.2" y="69.5">25 rows</text></g>
<g id="EMP_SCHD_DTL_LAYER" transform="translate(895.6 4858.4)"><rect class="tb" width="238.8" height="77.2"/><rect class="hd" width="238.8" height="29.5"/><path class="ln" d="M0 53.5H238.8M99.2 53.5V77.2M190.8 53.5V77.2"/><text class="n" x="7.5" y="18.5">EMP_SCHD_DTL_LAYER</text><text class="r" x="230.8" y="19.5">[table]</text><text x="7" y="46">...</text><text x="6" y="69.5">&lt; 11</text><text class="r" x="184.8" y="69.5">20 rows</text></g>
<g id="UNSTFD_SHIFT" transform="translate(927.7 4963.8)"><rect class="tb" width="174.6" height="77.2"/><rect class="hd" width="174.6" height="29.5"/><path class="ln" d="M0 53.5H174.6M65.5 53.5V77.2M137.3 53.5V77.2"/><text class="n" x="7.5" y="18.5">UNSTFD_SHIFT</text><text class="r" x="166.6" y="19.5">[table]</text><text x="7" y="46">...</text><text x="6" y="69.5">&lt; 9</text><text class="r" x="131.3" y="69.5">0 rows</text></g>
<g id="WORK_DETAIL" transform="translate(930.5 5069.2)"><rect class="tb" width="169" height="77.2"/><rect class="hd" width="169" height="29.5"/><path class="ln" d="M0 53.5H169M58.7 53.5V77.2M134.5 53.5V77.2"/><text class="n" x="7.5" y="18.5">WORK_DETAIL</text><text class="r" x="161" y="19.5">[table]</text><text x="7" y="46">...</text><text x="6" y="69.5">&lt; 9</text><text class="r" x="128.5" y="69.5">31 rows</text></g>
<g id="MP_TEMPLATE_REQUIREMENT" transform="translate(869 5174.6)"><rect class="tb" width="292" height="77.2"/><rect class="hd" width="292" height="29.5"/><path class="ln" d="M0 53.5H292M125.8 53.5V77.2M227 53.5V77.2"/><text class="n" x="7.5" y="18.5">MP_TEMPLATE_REQUIREMENT</text><text class="r" x="284" y="19.5">[table]</text><text x="7" y="46">...</text><text x="6" y="69.5">&lt; 4</text><text class="r" x="221" y="69.5">0 rows</text></g>
<g id="MP_DAILY_OVERRIDE" transform="translate(904.7 5313)"><rect class="tb" width="220.6" height="77.2"/><rect class="hd" width="220.6" height="29.5"/><path class="ln" d="M0 53.5H220.6M90.1 53.5V77.2M172.6 53.5V77.2"/><text class="n" x="7.5" y="18.5">MP_DAILY_OVERRIDE</text><text class="r" x="212.6" y="19.5">[table]</text><text x="7" y="46">...</text><text x="6" y="69.5">&lt; 4</text><text class="r" x="166.6" y="69.5">0 rows</text></g>
<g id="MP_TEMPLATE_TEAM" transform="translate(905.4 6443.8)"><rect class="tb" width="223.6" height="77.2"/><rect class="hd" width="223.6" height="29.5"/><path class="ln" d="M0 53.5H223.6M90.2 53.5V77.2M175.6 53.5V77.2"/><text class="n" x="7.5" y="18.5">MP_TEMPLATE_TEAM</text><text class="r" x="215.6" y="19.5">[table]</text><text x="7" y="46">...</text><text x="6" y="69.5">&lt; 2</text><text class="r" x="169.6" y="69.5">0 rows</text></g>
<g id="MP_TEMPLATE_GROUP_MEMBERS" transform="translate(855.4 6549)"><rect class="tb" width="325" height="77.2"/><rect class="hd" width="325" height="29.5"/><path class="ln" d="M0 53.5H325M141.6 53.5V77.2M250.6 53.5V77.2"/><text class="n" x="7.5" y="18.5">MP_TEMPLATE_GROUP_MEMBERS</text><text class="r" x="317" y="19.5">[table]</text><text x="7" y="46">...</text><text x="6" y="69.5">&lt; 2</text><text class="r" x="244.6" y="69.5">0 rows</text></g>
<g id="MP_TEMPLATE_TCODE" transform="translate(899.6 6654.5)"><rect class="tb" width="236.2" height="77.2"/><rect class="hd" width="236.2" height="29.5"/><path class="ln" d="M0 53.5H236.2M97.4 53.5V77.2M184.9 53.5V77.2"/><text class="n" x="7.5" y="18.5">MP_TEMPLATE_TCODE</text><text class="r" x="228.2" y="19.5">[table]</text><text x="7" y="46">...</text><text x="6" y="69.5">&lt; 2</text><text class="r" x="178.9" y="69.5">0 rows</text></g>
<g id="MP_TEMPLATE_SHIFT_OVERRIDE" transform="translate(860.4 6760)"><rect class="tb" width="313.4" height="77.2"/><rect class="hd" width="313.4" height="29.5"/><path class="ln" d="M0 53.5H313.4M135.2 53.5V77.2M241.9 53.5V77.2"/><text class="n" x="7.5" y="18.5">MP_TEMPLATE_SHIFT_OVERRIDE</text><text class="r" x="305.4" y="19.5">[table]</text><text x="7" y="46">...</text><text x="6" y="69.5">&lt; 2</text><text class="r" x="235.9" y="69.5">0 rows</text></g>
<g id="SR_SUM_PRIORITY" transform="translate(1252.8 4575)"><rect class="tb" width="203.2" height="77.2"/><rect class="hd" width="203.2" height="29.5"/><path class="ln" d="M0 53.5H203.2M80.2 53.5V77.2M158.9 53.5V77.2"/><text class="n" x="7.5" y="18.5">SR_SUM_PRIORITY</text><text class="r" x="195.2" y="19.5">[table]</text><text x="7" y="46">...</text><text x="6" y="69.5">&lt; 2</text><text class="r" x="152.9" y="69.5">0 rows</text></g>
<g id="SR_DETAIL" transform="translate(1283.6 5421)"><rect class="tb" width="141.6" height="77.2"/><rect class="hd" width="141.6" height="29.5"/><path class="ln" d="M0 53.5H141.6M49.4 53.5V77.2M113 53.5V77.2"/><text class="n" x="7.5" y="18.5">SR_DETAIL</text><text class="r" x="133.6" y="19.5">[table]</text><text x="7" y="46">...</text><text x="6" y="69.5">&lt; 3</text><text class="r" x="107" y="69.5">0 rows</text></g>
<g id="LABOR_METRIC_SEC" transform="translate(249.6 3046)"><rect class="tb" width="217.2" height="77.2"/><rect class="hd" width="217.2" height="29.5"/><path class="ln" d="M0 53.5H217.2M76.2 53.5V77.2M159.1 53.5V77.2"/><text class="n" x="7.5" y="18.5">LABOR_METRIC_SEC</text><text class="r" x="209.2" y="19.5">[table]</text><text x="7" y="46">...</text><text class="r" x="153.1" y="69.5">2 rows</text><text class="r" x="211.2" y="69.5">9 &gt;</text></g>
<g id="WORKBRAIN_TEAM" transform="translate(256.7 4223.8)"><rect class="tb" width="202.4" height="77.2"/><rect class="hd" width="202.4" height="29.5"/><path class="ln" d="M0 53.5H202.4M70.3 53.5V77.2M143.7 53.5V77.2"/><text class="n" x="7.5" y="18.5">WORKBRAIN_TEAM</text><text class="r" x="194.4" y="19.5">[table]</text><text x="7" y="46">...</text><text x="6" y="69.5">&lt; 3</text><text class="r" x="137.7" y="69.5">3 rows</text><text class="r" x="196.4" y="69.5">67 &gt;</text></g>
<g id="SR_TEAM_PRIORITY" transform="translate(548.5 4876.4)"><rect class="tb" width="210.7" height="77.2"/><rect class="hd" width="210.7" height="29.5"/><path class="ln" d="M0 53.5H210.7M84 53.5V77.2M165.7 53.5V77.2"/><text class="n" x="7.5" y="18.5">SR_TEAM_PRIORITY</text><text class="r" x="202.7" y="19.5">[table]</text><text x="7" y="46">...</text><text x="6" y="69.5">&lt; 2</text><text class="r" x="159.7" y="69.5">0 rows</text></g>
<g id="EMPLOYEE_SCHEDULE" transform="translate(536.5 4983.6)"><rect class="tb" width="234.8" height="77.2"/><rect class="hd" width="234.8" height="29.5"/><path class="ln" d="M0 53.5H234.8M86.7 53.5V77.2M176.1 53.5V77.2"/><text class="n" x="7.5" y="18.5">EMPLOYEE_SCHEDULE</text><text class="r" x="226.8" y="19.5">[table]</text><text x="7" y="46">...</text><text x="6" y="69.5">&lt; 9</text><text class="r" x="170.1" y="69.5">21 rows</text><text class="r" x="228.8" y="69.5">2 &gt;</text></g>
<g id="WORK_SUMMARY" transform="translate(557.9 5125.5)"><rect class="tb" width="191.4" height="77.2"/><rect class="hd" width="191.4" height="29.5"/><path class="ln" d="M0 53.5H191.4M65.3 53.5V77.2M143.7 53.5V77.2"/><text class="n" x="7.5" y="18.5">WORK_SUMMARY</text><text class="r" x="183.4" y="19.5">[table]</text><text x="7" y="46">...</text><text x="6" y="69.5">&lt; 6</text><text class="r" x="137.7" y="69.5">21 rows</text><text class="r" x="185.4" y="69.5">6 &gt;</text></g>
<g id="SCHEDULE_EMPLOYEE" transform="translate(536.5 5267)"><rect class="tb" width="234.8" height="77.2"/><rect class="hd" width="234.8" height="29.5"/><path class="ln" d="M0 53.5H234.8M96 53.5V77.2M182.5 53.5V77.2"/><text class="n" x="7.5" y="18.5">SCHEDULE_EMPLOYEE</text><text class="r" x="226.8" y="19.5">[table]</text><text x="7" y="46">...</text><text x="6" y="69.5">&lt; 2</text><text class="r" x="176.5" y="69.5">0 rows</text></g>
<g id="SHIFT_BREAK" transform="translate(572.7 5372.3)"><rect class="tb" width="164" height="77.2"/><rect class="hd" width="164" height="29.5"/><path class="ln" d="M0 53.5H164M65.3 53.5V77.2M127.8 53.5V77.2"/><text class="n" x="7.5" y="18.5">SHIFT_BREAK</text><text class="r" x="156" y="19.5">[table]</text><text x="7" y="46">...</text><text x="6" y="69.5">&lt; 3</text><text class="r" x="121.8" y="69.5">1 row</text></g>
<g id="SHIFT_GROUP" transform="translate(15.9 5340.2)"><rect class="tb" width="168.4" height="77.2"/><rect class="hd" width="168.4" height="29.5"/><path class="ln" d="M0 53.5H168.4M54.9 53.5V77.2M119.1 53.5V77.2"/><text class="n" x="7.5" y="18.5">SHIFT_GROUP</text><text class="r" x="160.4" y="19.5">[table]</text><text x="7" y="46">...</text><text class="r" x="113.1" y="69.5">1 row</text><text class="r" x="162.4" y="69.5">2 &gt;</text></g>
<g id="COLOUR" transform="translate(37.3 5445.5)"><rect class="tb" width="125.7" height="77.2"/><rect class="hd" width="125.7" height="29.5"/><path class="ln" d="M0 53.5H125.7M21.4 53.5V77.2M93.3 53.5V77.2"/><text class="n" x="7.5" y="18.5">COLOUR</text><text class="r" x="117.7" y="19.5">[table]</text><text x="7" y="46">...</text><text class="r" x="87.3" y="69.5">179 rows</text><text class="r" x="119.7" y="69.5">9 &gt;</text></g>
<g id="SHIFT_PATTERN_SHIFTS" transform="translate(532.6 5815)"><rect class="tb" width="244.2" height="77.2"/><rect class="hd" width="244.2" height="29.5"/><path class="ln" d="M0 53.5H244.2M97.1 53.5V77.2M192.6 53.5V77.2"/><text class="n" x="7.5" y="18.5">SHIFT_PATTERN_SHIFTS</text><text class="r" x="236.2" y="19.5">[table]</text><text x="7" y="46">...</text><text x="6" y="69.5">&lt; 7</text><text class="r" x="186.6" y="69.5">21 rows</text></g>
<g id="JOB" transform="translate(548.5 2589.8)"><rect class="tb" width="212.3" height="164.6"/><rect class="hd" width="212.3" height="29.5"/><path class="ln" d="M0 58.8H212.3M0 88.1H212.3M0 117.4H212.3M0 140.9H212.3M74.5 140.9V164.6M150.3 140.9V164.6"/><text class="n" x="7" y="18.5">JOB</text><text class="r" x="204.3" y="19.5">[table]</text><text x="25.5" y="49">JOB_ID</text><text x="25.5" y="78.3">JOB_NAME</text><text x="25.5" y="107.6">LMS_ID</text><text x="7" y="133.4">...</text><text x="6" y="156.9">&lt; 1</text><text class="r" x="144.3" y="156.9">6 rows</text><text class="r" x="206.3" y="156.9">53 &gt;</text></g>
<g id="DEPARTMENT" transform="translate(562.3 3431.8)"><rect class="tb" width="184.8" height="193.9"/><rect class="hd" width="184.8" height="29.5"/><path class="ln" d="M0 58.8H184.8M0 88.1H184.8M0 117.4H184.8M0 146.7H184.8M0 170.2H184.8M60.7 170.2V193.9M130.5 170.2V193.9"/><text class="n" x="7" y="18.5">DEPARTMENT</text><text class="r" x="176.8" y="19.5">[table]</text><text x="27.4" y="49">DEPT_ID</text><text x="27.4" y="78.3">DEPT_NAME</text><text x="27.4" y="107.6">LMS_ID</text><text x="27.4" y="136.9">WBT_ID</text><text x="7" y="162.7">...</text><text x="6" y="186.2">&lt; 2</text><text class="r" x="124.5" y="186.2">4 rows</text><text class="r" x="178.8" y="186.2">24 &gt;</text></g>
<g id="SHIFT" transform="translate(268.8 5317)"><rect class="tb" width="178.8" height="193.9"/><rect class="hd" width="178.8" height="29.5"/><path class="ln" d="M0 58.8H178.8M0 88.1H178.8M0 117.4H178.8M0 146.7H178.8M0 170.2H178.8M58.7 170.2V193.9M126.2 170.2V193.9"/><text class="n" x="7" y="18.5">SHIFT</text><text class="r" x="170.8" y="19.5">[table]</text><text x="26.9" y="49">SHFT_ID</text><text x="26.9" y="78.3">SHFT_NAME</text><text x="26.9" y="107.6">SHFTGRP_ID</text><text x="26.9" y="136.9">COLR_ID</text><text x="7" y="162.7">...</text><text x="6" y="186.2">&lt; 2</text><text class="r" x="120.2" y="186.2">4 rows</text><text class="r" x="172.8" y="186.2">22 &gt;</text></g>
<g id="MP_TEMPLATE" transform="translate(563.4 5585.7)"><rect class="tb" width="181.6" height="164.6"/><rect class="hd" width="181.6" height="29.5"/><path class="ln" d="M0 58.8H181.6M0 88.1H181.6M0 117.4H181.6M0 140.9H181.6M57 140.9V164.6M131.1 140.9V164.6"/><text class="n" x="7" y="18.5">MP_TEMPLATE</text><text class="r" x="173.6" y="19.5">[table]</text><text x="27.4" y="49">MPT_ID</text><text x="27.4" y="78.3">MPT_NAME</text><text x="27.4" y="107.6">MPT_END_DATE</text><text x="7" y="133.4">...</text><text class="r" x="125.1" y="156.9">0 rows</text><text class="r" x="175.6" y="156.9">7 &gt;</text></g>
<g id="MP_TEMPLATE_OVERRIDE" transform="translate(843 5421)"><rect class="tb" width="345.5" height="992.5"/><rect class="hd" width="345.5" height="29.5"/><path class="ln" d="M241 29.5V992.5M109.3 968.7V992.5M0 58.85H345.5M0 88.2H345.5M0 117.55H345.5M0 146.9H345.5M0 176.25H345.5M0 205.6H345.5M0 234.95H345.5M0 264.3H345.5M0 293.65H345.5M0 323H345.5M0 352.35H345.5M0 381.7H345.5M0 411.05H345.5M0 440.4H345.5M0 469.75H345.5M0 499.1H345.5M0 528.45H345.5M0 557.8H345.5M0 587.15H345.5M0 616.5H345.5M0 645.85H345.5M0 675.2H345.5M0 704.55H345.5M0 733.9H345.5M0 763.25H345.5M0 792.6H345.5M0 821.95H345.5M0 851.3H345.5M0 880.65H345.5M0 910H345.5M0 939.35H345.5M0 968.7H345.5"/><rect class="thk" width="345.5" height="992.5"/><text class="n" x="9" y="18.5">MP_TEMPLATE_OVERRIDE</text><text class="r" x="335.5" y="19.5">[table]</text>
<text x="29" y="49">MPTO_ID</text><text x="247" y="49">number[38]</text>
<text x="29" y="78.35">MPT_ID</text><text x="247" y="78.35">number[38]</text>
<text x="29" y="107.7">DEPT_ID</text><text x="247" y="107.7">number[38]</text>
<text x="29" y="137.05">SHFT_ID</text><text x="247" y="137.05">number[38]</text>
<text x="29" y="166.4">JOB_ID</text><text x="247" y="166.4">number[38]</text>
<text x="29" y="195.75">MPTO_PRIORITY</text><text x="247" y="195.75">number[17,12]</text>
<text x="29" y="225.1">MPTO_CREATE_DATE</text><text x="247" y="225.1">date[7]</text>
<text x="29" y="254.45">MPTO_START_DATE</text><text x="247" y="254.45">date[7]</text>
<text x="29" y="283.8">MPTO_END_DATE</text><text x="247" y="283.8">date[7]</text>
<text x="29" y="313.15">MPTO_REQ_SUN</text><text x="247" y="313.15">number[0]</text>
<text x="29" y="342.5">MPTO_REQ_MON</text><text x="247" y="342.5">number[0]</text>
<text x="29" y="371.85">MPTO_REQ_TUE</text><text x="247" y="371.85">number[0]</text>
<text x="29" y="401.2">MPTO_REQ_WED</text><text x="247" y="401.2">number[0]</text>
<text x="29" y="430.55">MPTO_REQ_THU</text><text x="247" y="430.55">number[0]</text>
<text x="29" y="459.9">MPTO_REQ_FRI</text><text x="247" y="459.9">number[0]</text>
<text x="29" y="489.25">MPTO_REQ_SAT</text><text x="247" y="489.25">number[0]</text>
<text x="29" y="518.6">MPTO_UDF1</text><text x="247" y="518.6">varchar2[100]</text>
<text x="29" y="547.95">MPTO_UDF2</text><text x="247" y="547.95">varchar2[100]</text>
<text x="29" y="577.3">MPTO_UDF3</text><text x="247" y="577.3">varchar2[100]</text>
<text x="29" y="606.65">MPTO_UDF4</text><text x="247" y="606.65">varchar2[100]</text>
<text x="29" y="636">MPTO_UDF5</text><text x="247" y="636">varchar2[100]</text>
<text x="29" y="665.35">MPTO_VAL1</text><text x="247" y="665.35">number[0]</text>
<text x="29" y="694.7">MPTO_VAL2</text><text x="247" y="694.7">number[0]</text>
<text x="29" y="724.05">MPTO_VAL3</text><text x="247" y="724.05">number[0]</text>
<text x="29" y="753.4">MPTO_VAL4</text><text x="247" y="753.4">number[0]</text>
<text x="29" y="782.75">MPTO_VAL5</text><text x="247" y="782.75">number[0]</text>
<text x="29" y="812.1">MPTO_FLAG1</text><text x="247" y="812.1">varchar2[1]</text>
<text x="29" y="841.45">MPTO_FLAG2</text><text x="247" y="841.45">varchar2[1]</text>
<text x="29" y="870.8">MPTO_FLAG3</text><text x="247" y="870.8">varchar2[1]</text>
<text x="29" y="900.15">MPTO_FLAG4</text><text x="247" y="900.15">varchar2[1]</text>
<text x="29" y="929.5">MPTO_FLAG5</text><text x="247" y="929.5">varchar2[1]</text>
<text x="29" y="958.85">CLIENT_ID</text><text x="247" y="958.85">number[38]</text>
<text x="6" y="984.7">&lt; 4</text><text class="r" x="235" y="984.7">0 rows</text><text class="r" x="339.5" y="984.7">0 &gt;</text></g>
<text x="16.7" y="6966">Generated by SchemaSpy</text>
</svg>
